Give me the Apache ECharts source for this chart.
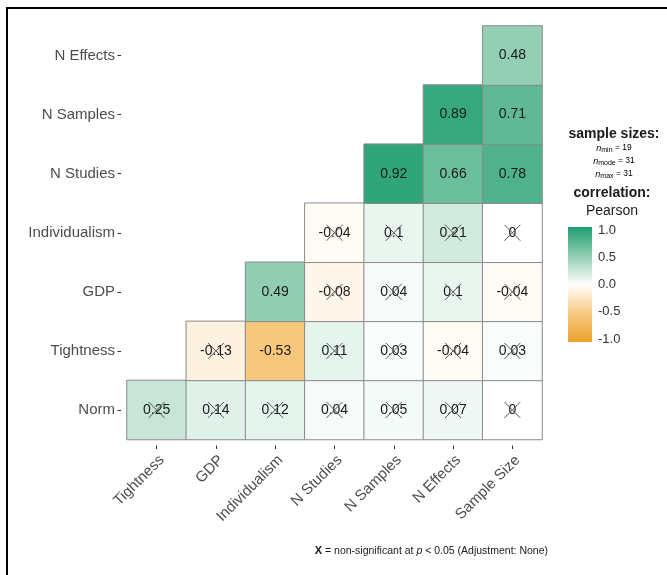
<!DOCTYPE html>
<html>
<head>
<meta charset="utf-8">
<script src="https://cdn.jsdelivr.net/npm/echarts@6/dist/echarts.min.js"></script>
<style>
  html, body { margin: 0; padding: 0; background: #ffffff; }
  #chart { width: 667px; height: 575px; }
</style>
</head>
<body>
<div id="chart"></div>
<script>
// Variables on each axis (y runs bottom to top)
const xCats = ['Tightness', 'GDP', 'Individualism', 'N Studies', 'N Samples', 'N Effects', 'Sample Size'];
const yCats = ['Norm', 'Tightness', 'GDP', 'Individualism', 'N Studies', 'N Samples', 'N Effects'];

// Pearson correlations, one array per y variable (null = upper triangle, not drawn)
const rNorm          = [0.25, 0.14, 0.12, 0.04, 0.05, 0.07, 0];
const rTightness     = [null, -0.13, -0.53, 0.11, 0.03, -0.04, 0.03];
const rGDP           = [null, null, 0.49, -0.08, 0.04, 0.1, -0.04];
const rIndividualism = [null, null, null, -0.04, 0.1, 0.21, 0];
const rNStudies      = [null, null, null, null, 0.92, 0.66, 0.78];
const rNSamples      = [null, null, null, null, null, 0.89, 0.71];
const rNEffects      = [null, null, null, null, null, null, 0.48];

// Significance at p < 0.05 (1 = significant, 0 = crossed out)
const sigNorm          = [0, 0, 0, 0, 0, 0, 0];
const sigTightness     = [0, 0, 1, 0, 0, 0, 0];
const sigGDP           = [0, 0, 1, 0, 0, 0, 0];
const sigIndividualism = [0, 0, 0, 0, 0, 0, 0];
const sigNStudies      = [0, 0, 0, 0, 1, 1, 1];
const sigNSamples      = [0, 0, 0, 0, 0, 1, 1];
const sigNEffects      = [0, 0, 0, 0, 0, 0, 1];

// Colour bar tick labels
const legendTicks = [1.0, 0.5, 0.0, -0.5, -1.0];

const rRows = [rNorm, rTightness, rGDP, rIndividualism, rNStudies, rNSamples, rNEffects];
const sigRows = [sigNorm, sigTightness, sigGDP, sigIndividualism, sigNStudies, sigNSamples, sigNEffects];

const cells = [];
const crossed = [];
rRows.forEach((row, yi) => {
  row.forEach((v, xi) => {
    if (v === null) return;
    cells.push([xi, yi, v]);
    if (!sigRows[yi][xi]) crossed.push([xi, yi]);
  });
});

const FONT = 'Liberation Sans, Arial, sans-serif';
const palette = ['#EBA12A', '#F8C982', '#FFFFFF', '#8FCDB1', '#1E9D70'];

const chart = echarts.init(document.getElementById('chart'), null, { renderer: 'canvas' });

// Colour bar
const barX = 568, barTop = 227, barW = 24, barH = 115;
const tickTop = 230, tickBottom = 339;
const legendGraphics = [
  {
    type: 'rect',
    shape: { x: barX, y: barTop, width: barW, height: barH },
    style: {
      fill: new echarts.graphic.LinearGradient(0, 0, 0, 1, [
        { offset: 0, color: palette[4] },
        { offset: 0.25, color: palette[3] },
        { offset: 0.5, color: palette[2] },
        { offset: 0.75, color: palette[1] },
        { offset: 1, color: palette[0] }
      ])
    }
  }
];
legendTicks.forEach(v => {
  const y = tickTop + (1 - v) / 2 * (tickBottom - tickTop);
  legendGraphics.push({
    type: 'text',
    x: barX + barW + 6, y: y,
    style: { text: v.toFixed(1), font: '13px ' + FONT, fill: '#333333', verticalAlign: 'middle' }
  });
});

const nRich = {
  i: { fontStyle: 'italic', fontSize: 9, fontFamily: FONT, color: '#333', lineHeight: 12, verticalAlign: 'middle' },
  s: { fontSize: 7, fontFamily: FONT, color: '#333', lineHeight: 12, verticalAlign: 'bottom' },
  t: { fontSize: 8.5, fontFamily: FONT, color: '#333', lineHeight: 12, verticalAlign: 'middle' }
};

const axisTickStyle = { show: true, alignWithLabel: true, length: 3.5, lineStyle: { color: '#333333', width: 1 } };

const option = {
  backgroundColor: '#ffffff',
  animation: false,
  grid: { left: 127, top: 26, width: 415, height: 413.5 },
  xAxis: {
    type: 'category',
    data: xCats,
    offset: 6,
    axisLine: { show: true, lineStyle: { color: 'rgba(0,0,0,0)' } },
    axisTick: axisTickStyle,
    axisLabel: { rotate: 45, interval: 0, fontSize: 15, fontFamily: FONT, color: '#4d4d4d', margin: 7, verticalAlign: 'top' },
    splitLine: { show: false }
  },
  yAxis: {
    type: 'category',
    data: yCats,
    offset: 6,
    axisLine: { show: true, lineStyle: { color: 'rgba(0,0,0,0)' } },
    axisTick: axisTickStyle,
    axisLabel: { interval: 0, fontSize: 15, fontFamily: FONT, color: '#4d4d4d', margin: 6 },
    splitLine: { show: false }
  },
  visualMap: {
    show: false,
    type: 'continuous',
    min: -1,
    max: 1,
    dimension: 2,
    seriesIndex: 0,
    inRange: { color: palette }
  },
  series: [
    {
      type: 'heatmap',
      data: cells,
      itemStyle: { borderColor: '#8a8a8a', borderWidth: 1 },
      label: {
        show: true,
        formatter: p => String(p.value[2]),
        fontSize: 14,
        fontFamily: FONT,
        color: '#1a1a1a'
      },
      emphasis: { disabled: true }
    },
    {
      type: 'custom',
      data: crossed,
      encode: { x: 0, y: 1 },
      z: 5,
      silent: true,
      renderItem: (params, api) => {
        const p = api.coord([api.value(0), api.value(1)]);
        const h = 8;
        const st = { stroke: '#555555', lineWidth: 1 };
        return {
          type: 'group',
          children: [
            { type: 'line', shape: { x1: p[0] - h, y1: p[1] - h, x2: p[0] + h, y2: p[1] + h }, style: st },
            { type: 'line', shape: { x1: p[0] + h, y1: p[1] - h, x2: p[0] - h, y2: p[1] + h }, style: st }
          ]
        };
      }
    }
  ],
  graphic: [
    // figure frame (top and left edges)
    { type: 'line', shape: { x1: 6, y1: 8, x2: 667, y2: 8 }, style: { stroke: '#000', lineWidth: 2 } },
    { type: 'line', shape: { x1: 7, y1: 7, x2: 7, y2: 575 }, style: { stroke: '#000', lineWidth: 2 } },
    {
      type: 'text', x: 614, y: 134,
      style: { text: 'sample sizes:', font: 'bold 14px ' + FONT, fill: '#1a1a1a', align: 'center', verticalAlign: 'middle' }
    },
    {
      type: 'text', x: 614, y: 148,
      style: { text: '{i|n}{s|min}{t| = 19}', rich: nRich, align: 'center', verticalAlign: 'middle' }
    },
    {
      type: 'text', x: 614, y: 161,
      style: { text: '{i|n}{s|mode}{t| = 31}', rich: nRich, align: 'center', verticalAlign: 'middle' }
    },
    {
      type: 'text', x: 614, y: 174,
      style: { text: '{i|n}{s|max}{t| = 31}', rich: nRich, align: 'center', verticalAlign: 'middle' }
    },
    {
      type: 'text', x: 612, y: 193,
      style: { text: 'correlation:', font: 'bold 14px ' + FONT, fill: '#1a1a1a', align: 'center', verticalAlign: 'middle' }
    },
    {
      type: 'text', x: 612, y: 211,
      style: { text: 'Pearson', font: '14px ' + FONT, fill: '#1a1a1a', align: 'center', verticalAlign: 'middle' }
    },
    ...legendGraphics,
    {
      type: 'text', x: 548, y: 551,
      style: {
        text: '{b|X} = non-significant at {i|p} < 0.05 (Adjustment: None)',
        align: 'right', verticalAlign: 'middle',
        font: '10.5px ' + FONT, fill: '#1a1a1a',
        rich: {
          b: { fontWeight: 'bold', fontSize: 11, fontFamily: FONT, color: '#1a1a1a' },
          i: { fontStyle: 'italic', fontSize: 10.5, fontFamily: FONT, color: '#1a1a1a' }
        }
      }
    }
  ]
};

chart.setOption(option);
</script>
</body>
</html>
